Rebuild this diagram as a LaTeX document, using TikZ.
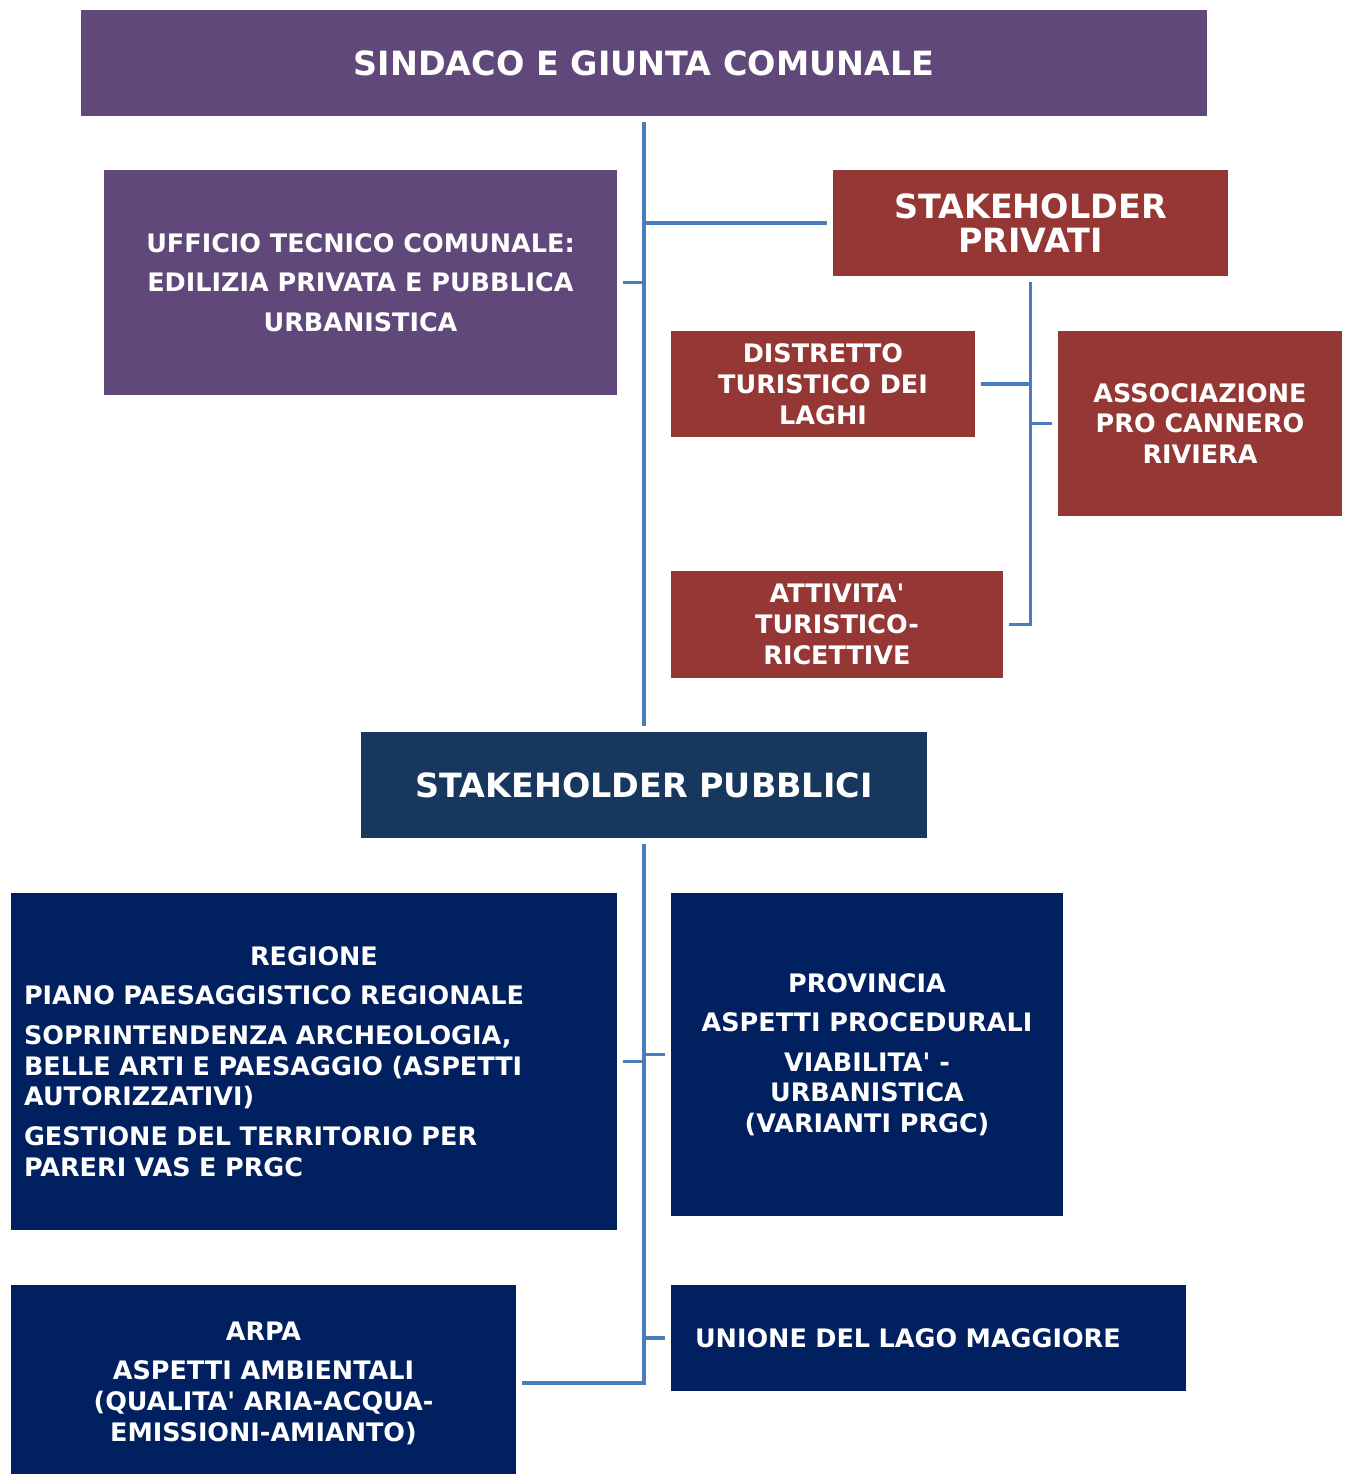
\documentclass[tikz,border=0pt]{standalone}
\usepackage{fontspec}
\setmainfont{DejaVu Sans}
\usepackage{xcolor}
\usepackage{tikz}
\definecolor{comune}{HTML}{60497A}
\definecolor{privati}{HTML}{953735}
\definecolor{pubblici}{HTML}{17375E}
\definecolor{enti}{HTML}{002060}
\definecolor{linkc}{HTML}{4A7EBB}
\newcommand{\ap}{\textquotesingle}
\tikzset{
  box/.style={rectangle, inner sep=0pt, outer sep=0.12cm, text=white, align=center,
    font=\bfseries\fontsize{14.5}{17.5}\selectfont},
  big/.style={box, font=\bfseries\fontsize{19}{19.5}\selectfont},
  link/.style={draw=linkc, line width=2pt},
}

\begin{document}
\begin{tikzpicture}[x=0.02cm, y=-0.02cm]
  \useasboundingbox (0,0) rectangle (1349,1474);
  \clip (0,0) rectangle (1349,1474);
  % comune
  \node[big, fill=comune, minimum width=22.52cm, minimum height=2.12cm] (sindaco) at (644,63)
    {SINDACO E GIUNTA COMUNALE};
  \node[box, fill=comune, minimum width=10.26cm, minimum height=4.5cm] (ufficio) at (360.5,282.5)
    {UFFICIO TECNICO COMUNALE:\\[5pt] EDILIZIA PRIVATA E PUBBLICA\\[5pt] URBANISTICA};
  % privati
  \node[big, fill=privati, minimum width=7.9cm, minimum height=2.12cm] (privati) at (1030.5,223)
    {STAKEHOLDER\\ PRIVATI};
  \node[box, fill=privati, minimum width=6.08cm, minimum height=2.12cm] (distretto) at (823,384)
    {DISTRETTO\\ TURISTICO DEI\\ LAGHI};
  \node[box, fill=privati, minimum width=5.68cm, minimum height=3.7cm] (assoc) at (1200,423.5)
    {ASSOCIAZIONE\\ PRO CANNERO\\ RIVIERA};
  \node[box, fill=privati, minimum width=6.64cm, minimum height=2.14cm] (attivita) at (837,624.5)
    {ATTIVITA\ap\\ TURISTICO-\\ RICETTIVE};
  % pubblici
  \node[big, fill=pubblici, minimum width=11.32cm, minimum height=2.12cm] (pubblici) at (644,785)
    {STAKEHOLDER PUBBLICI};
  \node[box, fill=enti, inner xsep=0.26cm, text width=11.6cm, minimum height=6.74cm, align=left]
    (regione) at (314,1061.5)
    {{\centering REGIONE\par}\vspace{5pt}
     PIANO PAESAGGISTICO REGIONALE\\[5pt]
     SOPRINTENDENZA ARCHEOLOGIA,\\ BELLE ARTI E PAESAGGIO (ASPETTI\\ AUTORIZZATIVI)\\[5pt]
     GESTIONE DEL TERRITORIO PER\\ PARERI VAS E PRGC};
  \node[box, fill=enti, minimum width=7.84cm, minimum height=6.46cm] (provincia) at (867,1054.5)
    {PROVINCIA\\[5pt] ASPETTI PROCEDURALI\\[5pt] VIABILITA\ap{} -\\ URBANISTICA\\ (VARIANTI PRGC)};
  \node[box, fill=enti, minimum width=10.1cm, minimum height=3.92cm] (arpa) at (263.5,1383)
    {ARPA\\[5pt] ASPETTI AMBIENTALI\\ (QUALITA\ap{} ARIA-ACQUA-\\ EMISSIONI-AMIANTO)};
  \node[box, fill=enti, inner xsep=0.48cm, text width=9.34cm, minimum height=2.12cm, align=left]
    (unione) at (928.5,1338)
    {UNIONE DEL LAGO MAGGIORE};
  % connectors
  \draw[link] (sindaco.south) -- (pubblici.north);
  \draw[link] (privati.south) |- (attivita.east);
  \draw[link] (pubblici.south) |- (arpa.east);
  \foreach \X/\Y in {ufficio.east/sindaco, privati.west/sindaco,
                     distretto.east/privati, assoc.west/privati,
                     regione.east/pubblici, provincia.west/pubblici, unione.west/pubblici}
    \draw[link] (\X) -- (\X -| \Y.south);
\end{tikzpicture}
\end{document}
